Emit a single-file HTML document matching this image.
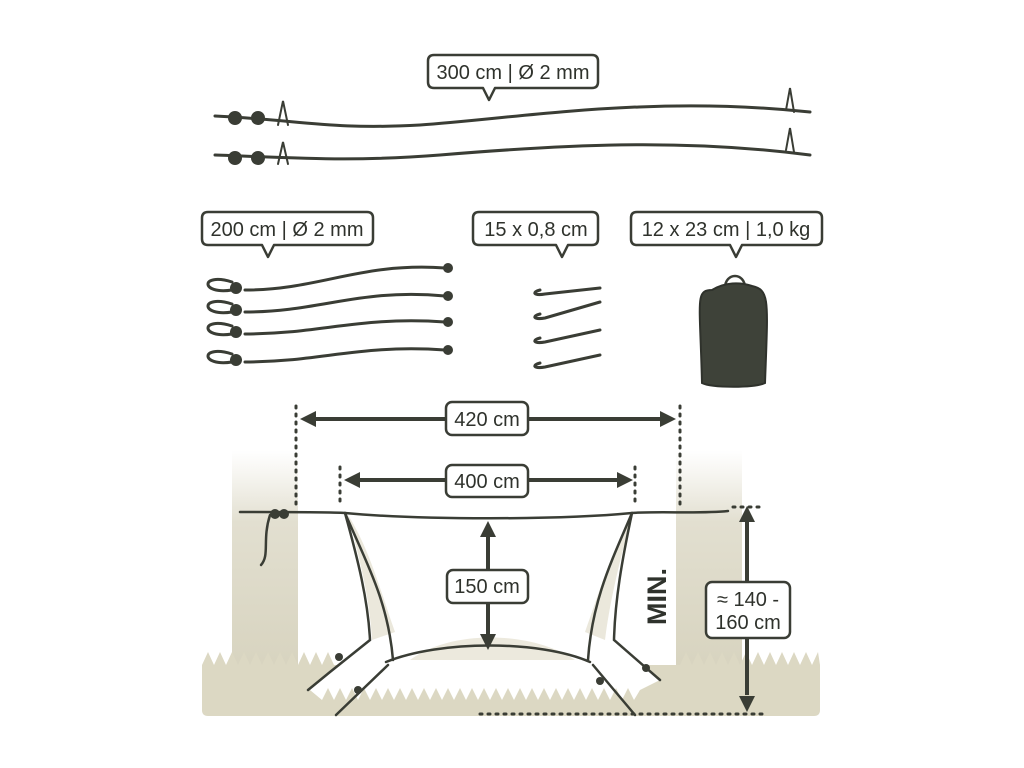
<!DOCTYPE html>
<html><head><meta charset="utf-8"><style>
html,body{margin:0;padding:0;background:#fff;}
svg{display:block;}
text{font-family:"Liberation Sans Narrow","Liberation Sans",sans-serif;fill:#2f322c;}
</style></head><body>
<svg width="1024" height="768" viewBox="0 0 1024 768" xmlns="http://www.w3.org/2000/svg">
<defs>
<linearGradient id="tr" x1="0" y1="0" x2="0" y2="1">
<stop offset="0" stop-color="#e6e3d6" stop-opacity="0"/>
<stop offset="0.3" stop-color="#e2dfd0"/>
<stop offset="1" stop-color="#d6d2bd"/>
</linearGradient>
</defs>
<g fill="none" stroke="#3a3d35" stroke-width="3" stroke-linecap="round">
<path d="M215,116 C300,120 330,130 420,125 C520,118 650,95 810,112"/>
<path d="M215,155 C300,158 350,162 440,155 C560,145 680,138 810,155"/>
<g stroke-width="2">
<circle cx="235" cy="118" r="6" fill="#3a3d35"/><circle cx="258" cy="118" r="6" fill="#3a3d35"/>
<circle cx="235" cy="158" r="6" fill="#3a3d35"/><circle cx="258" cy="158" r="6" fill="#3a3d35"/>
<path d="M278,125 L283,101 L288,125"/><path d="M278,164 L283,142 L288,164"/>
<path d="M786,110 L790,88 L794,112"/><path d="M786,150 L790,128 L794,152"/>
</g>
<g stroke-width="3">
<path d="M245,290 C320,290 360,262 445,268"/>
<path d="M245,312 C320,312 360,288 445,296"/>
<path d="M245,334 C320,334 360,316 445,322"/>
<path d="M245,362 C320,362 360,344 445,350"/>
<path d="M232,282 C200,272 200,295 232,290"/>
<path d="M232,304 C200,294 200,317 232,312"/>
<path d="M232,326 C200,316 200,339 232,334"/>
<path d="M232,354 C200,344 200,367 232,362"/>
</g>
<g fill="#3a3d35" stroke="none">
<circle cx="236" cy="288" r="6"/><circle cx="236" cy="310" r="6"/><circle cx="236" cy="332" r="6"/><circle cx="236" cy="360" r="6"/>
<circle cx="448" cy="268" r="5"/><circle cx="448" cy="296" r="5"/><circle cx="448" cy="322" r="5"/><circle cx="448" cy="350" r="5"/>
</g>
<g stroke-width="3">
<path d="M540,290 C532,292 533,296 545,294 L600,288"/>
<path d="M540,314 C532,316 533,320 545,318 L600,302"/>
<path d="M540,338 C532,340 533,344 545,342 L600,330"/>
<path d="M540,363 C532,365 533,369 545,367 L600,355"/>
</g>
<path d="M725,288 C725,272 745,272 745,288" stroke-width="2.5"/>
<path d="M712,290 C695,290 700,300 702,383 C712,388 755,388 765,383 C768,300 770,290 752,286 C740,282 725,282 712,290 z" fill="#3e4239" stroke="#2f322c" stroke-width="2"/>
</g>
<g fill="#fff" stroke="#3a3d35" stroke-width="2.5" stroke-linejoin="round">
<path d="M434,55 H592 Q598,55 598,61 V82 Q598,88 592,88 H495 L489,100 L483,88 H434 Q428,88 428,82 V61 Q428,55 434,55 z"/>
<path d="M208,212 H367 Q373,212 373,218 V239 Q373,245 367,245 H274 L268,257 L262,245 H208 Q202,245 202,239 V218 Q202,212 208,212 z"/>
<path d="M479,212 H592 Q598,212 598,218 V239 Q598,245 592,245 H568 L562,257 L556,245 H479 Q473,245 473,239 V218 Q473,212 479,212 z"/>
<path d="M637,212 H816 Q822,212 822,218 V239 Q822,245 816,245 H742 L736,257 L730,245 H637 Q631,245 631,239 V218 Q631,212 637,212 z"/>
</g>
<g font-size="20" text-anchor="middle">
<text x="513" y="79">300 cm | Ø 2 mm</text>
<text x="287" y="236">200 cm | Ø 2 mm</text>
<text x="536" y="236">15 x 0,8 cm</text>
<text x="726" y="236">12 x 23 cm | 1,0 kg</text>
</g>
<!-- scene -->
<rect x="232" y="450" width="66" height="240" fill="url(#tr)"/>
<rect x="676" y="450" width="66" height="240" fill="url(#tr)"/>
<path d="M202,665 L208,652 L214,665 L220,652 L226,665 L232,652 L238,665 L244,652 L250,665 L256,652 L262,665 L268,652 L274,665 L280,652 L286,665 L292,652 L298,665 L304,652 L310,665 L316,652 L322,665 L328,652 L334,665 L680,665 L686,652 L692,665 L698,652 L704,665 L710,652 L716,665 L722,652 L728,665 L734,652 L740,665 L746,652 L752,665 L758,652 L764,665 L770,652 L776,665 L782,652 L788,665 L794,652 L800,665 L806,652 L812,665 L818,652 L820,665 L820,710 Q820,716 814,716 H208 Q202,716 202,710 z" fill="#dcd8c3"/>
<!-- white floor -->
<path d="M310,690 L370,640 L395,632 L590,632 L615,640 L660,680 L640,690 L634,700 L628,688 L622,700 L616,688 L610,700 L604,688 L598,700 L592,688 L586,700 L580,688 L574,700 L568,688 L562,700 L556,688 L550,700 L544,688 L538,700 L532,688 L526,700 L520,688 L514,700 L508,688 L502,700 L496,688 L490,700 L484,688 L478,700 L472,688 L466,700 L460,688 L454,700 L448,688 L442,700 L436,688 L430,700 L424,688 L418,700 L412,688 L406,700 L400,688 L394,700 L388,688 L382,700 L376,688 L370,700 L364,688 L358,700 L352,688 L346,700 L340,688 L334,700 L328,688 L322,700 z" fill="#fff"/>
<path d="M348,515 C360,560 370,600 372,640 L395,632 C380,590 370,550 348,515 z" fill="#ebe8dc"/>
<path d="M632,515 C620,560 610,600 605,640 L585,632 C600,590 612,550 632,515 z" fill="#ebe8dc"/>
<path d="M410,660 C450,630 530,630 575,660 z" fill="#ece9dd"/>
<g fill="none" stroke="#3a3d35" stroke-width="2.5" stroke-linecap="round">
<path d="M240,512 C300,512 330,512 345,513 C420,520 560,520 632,513 C660,511 700,514 728,511"/>
<path d="M270,515 C262,540 270,555 261,565"/>
<path d="M345,513 C365,560 388,600 393,660"/>
<path d="M345,513 C358,560 368,600 370,640 L330,672 L308,690"/>
<path d="M632,513 C612,560 592,600 588,660"/>
<path d="M632,513 C622,560 615,600 614,640 L660,680"/>
<path d="M386,662 C440,640 540,640 590,662"/>
<path d="M388,665 L336,715"/>
<path d="M593,665 L635,715"/>
</g>
<g fill="#3a3d35"><circle cx="275" cy="514" r="5"/><circle cx="284" cy="514" r="5"/><circle cx="339" cy="657" r="4"/><circle cx="358" cy="690" r="4"/><circle cx="600" cy="681" r="4"/><circle cx="646" cy="668" r="4"/></g>
<g stroke="#3a3d35" stroke-width="3" stroke-dasharray="2,6" stroke-linecap="round" fill="none">
<path d="M296,406 V505"/><path d="M680,406 V505"/>
<path d="M340,467 V505"/><path d="M635,467 V505"/>
<path d="M733,507 H762"/><path d="M480,714 H762"/>
</g>
<!-- arrows -->
<g stroke="#3a3d35" stroke-width="4" fill="none">
<path d="M315,419 H660"/>
<path d="M360,480 H617"/>
<path d="M488,535 V635"/>
<path d="M747,520 V695"/>
</g>
<g fill="#3a3d35">
<polygon points="300,419 316,411 316,427"/><polygon points="676,419 660,411 660,427"/>
<polygon points="344,480 360,472 360,488"/><polygon points="633,480 617,472 617,488"/>
<polygon points="488,521 480,537 496,537"/><polygon points="488,650 480,634 496,634"/>
<polygon points="747,506 739,522 755,522"/><polygon points="747,712 739,696 755,696"/>
</g>
<g fill="#fff" stroke="#3a3d35" stroke-width="2.5">
<rect x="446" y="402" width="82" height="33" rx="6"/>
<rect x="446" y="465" width="82" height="32" rx="6"/>
<rect x="447" y="570" width="81" height="33" rx="6"/>
<rect x="706" y="582" width="84" height="56" rx="6"/>
</g>
<g font-size="20" text-anchor="middle">
<text x="487" y="426">420 cm</text>
<text x="487" y="488">400 cm</text>
<text x="487" y="593">150 cm</text>
<text x="748" y="606">≈ 140 -</text>
<text x="748" y="629">160 cm</text>
</g>
<text x="0" y="0" font-size="27" font-weight="bold" transform="translate(666,625) rotate(-90)">MIN.</text>
</svg>
</body></html>
